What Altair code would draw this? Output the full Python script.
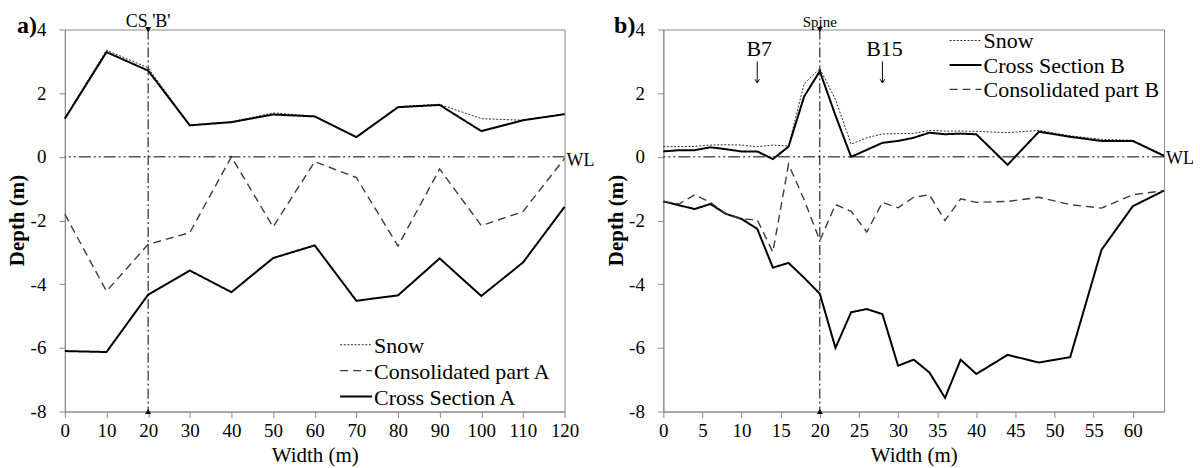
import altair as alt
import pandas as pd

# ---------------- data: panel a) ----------------
A_X = [0, 10, 20, 30, 40, 50, 60, 70, 80, 90, 100, 110, 120]
A_SNOW = [1.22, 3.35, 2.80, 1.00, 1.10, 1.38, 1.28, 0.62, 1.58, 1.65, 1.20, 1.15, 1.35]
A_CS_TOP = [1.20, 3.29, 2.71, 0.99, 1.09, 1.33, 1.27, 0.62, 1.56, 1.63, 0.81, 1.15, 1.34]
A_CS_BOT = [-6.10, -6.13, -4.33, -3.57, -4.25, -3.18, -2.78, -4.52, -4.35, -3.19, -4.37, -3.32, -1.57]
A_CONSOL = [-1.80, -4.22, -2.75, -2.38, 0.00, -2.20, -0.15, -0.65, -2.80, -0.38, -2.16, -1.72, -0.05]

# ---------------- data: panel b) ----------------
B_X = [0, 2, 4, 6, 8, 10, 12, 14, 16, 18, 20, 22, 24, 26, 28, 30, 32, 34, 36, 38, 40,
       44, 48, 52, 56, 60, 64]
B_SNOW = [0.32, 0.32, 0.33, 0.37, 0.38, 0.37, 0.32, 0.37, 0.34, 2.30, 2.77, 1.80, 0.40,
          0.60, 0.72, 0.73, 0.74, 0.83, 0.81, 0.81, 0.80, 0.76, 0.83, 0.66, 0.55, 0.52, 0.05]
B_CS_TOP = [0.17, 0.21, 0.21, 0.30, 0.24, 0.17, 0.17, -0.07, 0.32, 1.90, 2.69, 1.30, 0.00,
            0.22, 0.44, 0.50, 0.60, 0.76, 0.71, 0.73, 0.71, -0.25, 0.79, 0.63, 0.50, 0.50, 0.03]
B_CS_BOT = [-1.40, -1.52, -1.64, -1.48, -1.79, -1.95, -2.26, -3.48, -3.33, -3.80, -4.30,
            -6.00, -4.88, -4.78, -4.94, -6.56, -6.37, -6.77, -7.57, -6.37, -6.82, -6.22,
            -6.46, -6.29, -2.92, -1.55, -1.06]
B_CONSOL = [-1.40, -1.48, -1.19, -1.43, -1.79, -1.95, -1.98, -2.99, -0.23, -1.35, -2.63,
            -1.50, -1.71, -2.36, -1.43, -1.60, -1.27, -1.19, -2.00, -1.32, -1.43, -1.40,
            -1.27, -1.50, -1.61, -1.19, -1.06]

A_SERIES = ["Snow", "Consolidated part A", "Cross Section A"]
B_SERIES = ["Snow", "Cross Section B", "Consolidated part B"]
Y_TICKS = [-8, -6, -4, -2, 0, 2, 4]
A_TICKS = list(range(0, 121, 10))
B_TICKS = list(range(0, 61, 5))

FONT = "Liberation Serif"
FRAME = "#8a8a8a"

STYLE = {  # series kind -> (dash, width, colour)
    "snow": ([2, 1.6], 1.0, "#2a2a2a"),
    "consol": ([8, 5], 1.4, "#3c3c3c"),
    "cs": ([1, 0], 2.0, "#000000"),
}


def frame(x, snow, top, bot, consol, names):
    snow_n, consol_n, cs_n = names
    rows = []
    for xi, v in zip(x, snow):
        rows.append((xi, v, snow_n, "snow"))
    for xi, v in zip(x, consol):
        rows.append((xi, v, consol_n, "consol"))
    for xi, v in zip(x, top):
        rows.append((xi, v, cs_n, "top"))
    for xi, v in zip(x, bot):
        rows.append((xi, v, cs_n, "bot"))
    return pd.DataFrame(rows, columns=["x", "depth", "series", "seg"])


def panel(df, order, kinds, xmax, xticks, width, legend_xy, cs_label, cs_size,
          panel_label, wl_dy, arrows):
    xenc = alt.X("x:Q", scale=alt.Scale(domain=[0, xmax], nice=False, zero=False),
                 axis=alt.Axis(values=xticks, title="Width (m)", labelFlush=False,
                               titleBaseline="alphabetic", titleY=50))
    yenc = alt.Y("depth:Q", scale=alt.Scale(domain=[-8, 4], nice=False),
                 axis=alt.Axis(values=Y_TICKS, title="Depth (m)",
                               labelExpr="'' + datum.value", titleFontWeight="bold",
                               titleX=-41, titleY=191, titleBaseline="alphabetic",
                               titleAlign="center", titleAngle=-90))
    layers = []
    lx, ly, ldy = legend_xy
    for i, (name, kind) in enumerate(zip(order, kinds)):
        dash, sw, col = STYLE[kind]
        sub = df[df["series"] == name]
        layers.append(alt.Chart(sub).mark_line(strokeDash=dash, strokeWidth=sw,
                                               color=col).encode(
            x=xenc, y=yenc, detail="seg:N"))
        # manual legend entry
        layers.append(alt.Chart().mark_rule(strokeDash=dash, strokeWidth=sw,
                                            color=col).encode(
            x=alt.value(lx), x2=alt.value(lx + 32), y=alt.value(ly + i * ldy)))
        layers.append(alt.Chart().mark_text(font=FONT, fontSize=22, color="black",
                                            align="left", baseline="middle",
                                            dy=1).encode(
            x=alt.value(lx + 34), y=alt.value(ly + i * ldy), text=alt.value(name)))
    vline = alt.Chart().mark_rule(color="black", strokeWidth=1,
                                  strokeDash=[10, 3, 2, 3]).encode(x=alt.datum(20))
    hline = alt.Chart().mark_rule(color="black", strokeWidth=1,
                                  strokeDash=[12, 3, 2, 3, 2, 3]).encode(y=alt.datum(0))
    top_mark = alt.Chart().mark_point(shape="triangle-down", filled=True, size=35,
                                      color="black", opacity=1).encode(
        x=alt.datum(20), y=alt.datum(4))
    bot_mark = alt.Chart().mark_point(shape="triangle-up", filled=True, size=35,
                                      color="black", opacity=1).encode(
        x=alt.datum(20), y=alt.datum(-8))
    cs_text = alt.Chart().mark_text(font=FONT, fontSize=cs_size, color="black",
                                    baseline="alphabetic").encode(
        x=alt.datum(20), y=alt.value(-3), text=alt.value(cs_label))
    wl_text = alt.Chart().mark_text(font=FONT, fontSize=18, color="black", align="left",
                                    baseline="middle", dx=2, dy=wl_dy).encode(
        x=alt.datum(xmax), y=alt.datum(0), text=alt.value("WL"))
    lab_text = alt.Chart().mark_text(font=FONT, fontSize=24, fontWeight="bold",
                                     color="black", align="right",
                                     baseline="middle").encode(
        x=alt.value(-28), y=alt.value(-4), text=alt.value(panel_label))
    layers += [vline, hline, top_mark, bot_mark, cs_text, wl_text, lab_text]
    for (ax, label) in arrows:
        layers.append(alt.Chart().mark_text(font=FONT, fontSize=22, color="black",
                                            baseline="alphabetic", dx=2).encode(
            x=alt.datum(ax), y=alt.datum(3.16), text=alt.value(label)))
        layers.append(alt.Chart().mark_rule(color="black", strokeWidth=1).encode(
            x=alt.datum(ax), y=alt.datum(3.0), y2=alt.datum(2.32)))
        layers.append(alt.Chart().mark_point(shape="M-0.45,-0.75L0,0L0.45,-0.75",
                                             filled=False, size=100, color="black",
                                             strokeWidth=1, opacity=1).encode(
            x=alt.datum(ax), y=alt.datum(2.32)))
    return alt.layer(*layers).properties(width=width, height=383)


df_a = frame(A_X, A_SNOW, A_CS_TOP, A_CS_BOT, A_CONSOL, A_SERIES)
df_b = frame(B_X, B_SNOW, B_CS_TOP, B_CS_BOT, B_CONSOL,
             [B_SERIES[0], B_SERIES[2], B_SERIES[1]])

left = panel(df_a, A_SERIES, ["snow", "consol", "cs"], 120, A_TICKS, 501,
             (276, 316, 26), "CS 'B'", 18, "a)", 4, [])
right = panel(df_b, B_SERIES, ["snow", "cs", "consol"], 64, B_TICKS, 502,
              (287, 11, 24.5), "Spine", 15, "b)", 2, [(12, "B7"), (28, "B15")])

chart = alt.hconcat(left, right, spacing=99, bounds="flush").resolve_scale(
    x="independent", y="independent"
).configure(
    padding={"left": 6, "top": 11, "right": 5, "bottom": 0},
    font=FONT,
).configure_view(
    stroke=FRAME, strokeWidth=1
).configure_axis(
    labelFont=FONT, labelFontSize=19, labelColor="black",
    titleFont=FONT, titleFontSize=21, titleColor="black", titleFontWeight="normal",
    domainColor=FRAME, tickColor=FRAME, tickSize=6, grid=False,
).configure_axisX(
    labelPadding=4,
).configure_axisY(
    labelPadding=13,
)

chart.save("out.html", embed_options={"renderer": "svg", "actions": False})
